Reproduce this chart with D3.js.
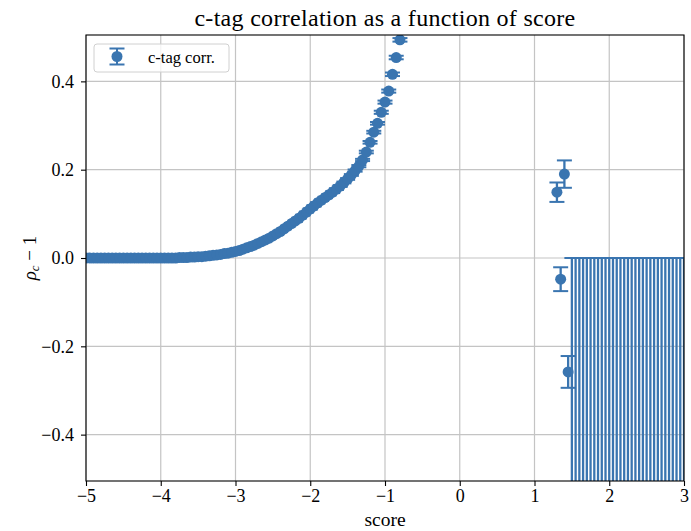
<!DOCTYPE html>
<html>
<head>
<meta charset="utf-8">
<script src="https://cdn.jsdelivr.net/npm/d3@7"></script>
<style>
  body { margin: 0; background: #fff; }
  text { font-family: "Liberation Serif", "DejaVu Serif", serif; fill: #000; }
</style>
</head>
<body>
<div id="chart"></div>
<script>
// score bins (only the visible ones)
const curveScore = [
  -5.00, -4.95, -4.90, -4.85, -4.80, -4.75, -4.70, -4.65, -4.60, -4.55,
  -4.50, -4.45, -4.40, -4.35, -4.30, -4.25, -4.20, -4.15, -4.10, -4.05,
  -4.00, -3.95, -3.90, -3.85, -3.80, -3.75, -3.70, -3.65, -3.60, -3.55,
  -3.50, -3.45, -3.40, -3.35, -3.30, -3.25, -3.20, -3.15, -3.10, -3.05,
  -3.00, -2.95, -2.90, -2.85, -2.80, -2.75, -2.70, -2.65, -2.60, -2.55,
  -2.50, -2.45, -2.40, -2.35, -2.30, -2.25, -2.20, -2.15, -2.10, -2.05,
  -2.00, -1.95, -1.90, -1.85, -1.80, -1.75, -1.70, -1.65, -1.60, -1.55,
  -1.50, -1.45, -1.40, -1.35, -1.30, -1.25, -1.20, -1.15, -1.10, -1.05,
  -1.00, -0.95, -0.90, -0.85, -0.80
];
const curveRho = [
  0.000, 0.000, 0.000, 0.000, 0.000, 0.000, 0.000, 0.000, 0.000, 0.000,
  0.000, 0.000, 0.000, 0.000, 0.000, 0.000, 0.000, 0.000, 0.000, 0.000,
  0.000, 0.000, 0.000, 0.000, 0.000, 0.001, 0.001, 0.001, 0.002, 0.002,
  0.003, 0.003, 0.004, 0.005, 0.006, 0.007, 0.008, 0.010, 0.011, 0.013,
  0.015, 0.017, 0.020, 0.023, 0.026, 0.029, 0.033, 0.037, 0.041, 0.045,
  0.050, 0.055, 0.060, 0.066, 0.072, 0.078, 0.084, 0.090, 0.097, 0.104,
  0.111, 0.118, 0.125, 0.131, 0.137, 0.143, 0.149, 0.156, 0.163, 0.171,
  0.179, 0.188, 0.198, 0.208, 0.222, 0.240, 0.262, 0.285, 0.305, 0.330,
  0.353, 0.378, 0.416, 0.454, 0.494
];
const curveErr = [
  0.0005, 0.0005, 0.0005, 0.0005, 0.0005, 0.0005, 0.0005, 0.0005, 0.0005, 0.0005,
  0.0005, 0.0005, 0.0005, 0.0005, 0.0005, 0.0005, 0.0005, 0.0005, 0.0005, 0.0005,
  0.0005, 0.0005, 0.0005, 0.0005, 0.0005, 0.0005, 0.0005, 0.0005, 0.0005, 0.0005,
  0.0005, 0.0005, 0.0005, 0.0005, 0.0005, 0.0005, 0.0005, 0.0005, 0.0005, 0.0005,
  0.001, 0.001, 0.001, 0.001, 0.001, 0.001, 0.001, 0.001, 0.001, 0.001,
  0.001, 0.001, 0.001, 0.001, 0.001, 0.001, 0.001, 0.001, 0.001, 0.001,
  0.0015, 0.0015, 0.0015, 0.0015, 0.0015, 0.0015, 0.002, 0.002, 0.002, 0.002,
  0.002, 0.002, 0.0025, 0.0025, 0.0025, 0.003, 0.003, 0.003, 0.003, 0.0035,
  0.0035, 0.0035, 0.004, 0.004, 0.004
];

// the few bins near score 1.3 - 1.45
const tailScore = [1.30, 1.35, 1.40, 1.45];
const tailRho = [0.149, -0.048, 0.190, -0.258];
const tailErr = [0.022, 0.027, 0.031, 0.036];

// empty bins: rho = -1 with error 1 (bars reach up to 0)
const emptyScore = [
  1.50, 1.55, 1.60, 1.65, 1.70, 1.75, 1.80, 1.85, 1.90, 1.95,
  2.00, 2.05, 2.10, 2.15, 2.20, 2.25, 2.30, 2.35, 2.40, 2.45,
  2.50, 2.55, 2.60, 2.65, 2.70, 2.75, 2.80, 2.85, 2.90, 2.95, 3.00
];
const emptyRho = emptyScore.map(() => -1);
const emptyErr = emptyScore.map(() => 1);

const xTicks = [-5, -4, -3, -2, -1, 0, 1, 2, 3];
const yTicks = [-0.4, -0.2, 0.0, 0.2, 0.4];

const color = "#3a75b0";
const W = 691, H = 531;
const margin = {top: 35, right: 7, bottom: 50, left: 86};

const svg = d3.select("#chart").append("svg")
    .attr("width", W)
    .attr("height", H);

const x = d3.scaleLinear().domain([-5, 3]).range([margin.left, W - margin.right]);
const y = d3.scaleLinear().domain([-0.505, 0.505]).range([H - margin.bottom, margin.top]);

svg.append("clipPath").attr("id", "plotclip")
  .append("rect")
    .attr("x", margin.left).attr("y", margin.top)
    .attr("width", W - margin.left - margin.right)
    .attr("height", H - margin.top - margin.bottom);

// grid
const grid = svg.append("g").attr("class", "grid");
grid.selectAll("line.gx").data(xTicks).join("line")
    .attr("x1", d => x(d)).attr("x2", d => x(d))
    .attr("y1", margin.top).attr("y2", H - margin.bottom)
    .attr("stroke", "#c4c4c4").attr("stroke-width", 1.2);
grid.selectAll("line.gy").data(yTicks).join("line")
    .attr("y1", d => y(d)).attr("y2", d => y(d))
    .attr("x1", margin.left).attr("x2", W - margin.right)
    .attr("stroke", "#c4c4c4").attr("stroke-width", 1.2);

// all bins together
const points = [];
curveScore.forEach((s, i) => points.push({s: s, r: curveRho[i], e: curveErr[i]}));
tailScore.forEach((s, i) => points.push({s: s, r: tailRho[i], e: tailErr[i]}));
emptyScore.forEach((s, i) => points.push({s: s, r: emptyRho[i], e: emptyErr[i]}));

const capHalf = 7.5, lw = 2.3;
const plot = svg.append("g").attr("clip-path", "url(#plotclip)");

plot.append("g").selectAll("line").data(points).join("line")
    .attr("x1", d => x(d.s)).attr("x2", d => x(d.s))
    .attr("y1", d => y(d.r - d.e)).attr("y2", d => y(d.r + d.e))
    .attr("stroke", color).attr("stroke-width", lw);

const caps = plot.append("g");
caps.selectAll("line.lo").data(points).join("line")
    .attr("x1", d => x(d.s) - capHalf).attr("x2", d => x(d.s) + capHalf)
    .attr("y1", d => y(d.r - d.e)).attr("y2", d => y(d.r - d.e))
    .attr("stroke", color).attr("stroke-width", 2);
caps.selectAll("line.hi").data(points).join("line")
    .attr("x1", d => x(d.s) - capHalf).attr("x2", d => x(d.s) + capHalf)
    .attr("y1", d => y(d.r + d.e)).attr("y2", d => y(d.r + d.e))
    .attr("stroke", color).attr("stroke-width", 2);

plot.append("g").selectAll("circle").data(points).join("circle")
    .attr("cx", d => x(d.s)).attr("cy", d => y(d.r))
    .attr("r", 5.5)
    .attr("fill", color);

// axes
const xAxis = svg.append("g")
    .attr("transform", `translate(0,${H - margin.bottom})`)
    .call(d3.axisBottom(x).tickValues(xTicks).tickFormat(d3.format("d")).tickSize(5).tickPadding(3));
const yAxis = svg.append("g")
    .attr("transform", `translate(${margin.left},0)`)
    .call(d3.axisLeft(y).tickValues(yTicks).tickFormat(d3.format(".1f")).tickSize(5).tickPadding(7));
[xAxis, yAxis].forEach(a => {
  a.select(".domain").remove();
  a.selectAll(".tick line").attr("stroke", "#000").attr("stroke-width", 1.1);
  a.selectAll(".tick text").attr("font-size", 18);
});

// frame
svg.append("rect")
    .attr("x", margin.left).attr("y", margin.top)
    .attr("width", W - margin.left - margin.right)
    .attr("height", H - margin.top - margin.bottom)
    .attr("fill", "none").attr("stroke", "#000").attr("stroke-width", 1.1);

// title and labels
svg.append("text")
    .attr("x", (margin.left + W - margin.right) / 2).attr("y", 26)
    .attr("text-anchor", "middle").attr("font-size", 24)
    .attr("letter-spacing", 0.3)
    .text("c-tag correlation as a function of score");

svg.append("text")
    .attr("x", (margin.left + W - margin.right) / 2).attr("y", 526)
    .attr("text-anchor", "middle").attr("font-size", 19.5)
    .text("score");

const yl = svg.append("text")
    .attr("transform", `translate(36,${y(0)}) rotate(-90)`)
    .attr("text-anchor", "middle").attr("font-size", 19);
yl.append("tspan").attr("font-style", "italic").text("ρ");
yl.append("tspan").attr("font-style", "italic").attr("font-size", 13).attr("dy", 3).text("c");
yl.append("tspan").attr("dy", -3).text(" − 1");

// legend
const lg = svg.append("g");
lg.append("rect")
    .attr("x", 94).attr("y", 44).attr("width", 135).attr("height", 28)
    .attr("rx", 3)
    .attr("fill", "#fff").attr("fill-opacity", 0.8)
    .attr("stroke", "#d0d0d0").attr("stroke-width", 1);
lg.append("line").attr("x1", 117).attr("x2", 117).attr("y1", 48.5).attr("y2", 64.5)
    .attr("stroke", color).attr("stroke-width", 2);
[48.5, 64.5].forEach(cy => lg.append("line")
    .attr("x1", 117 - capHalf).attr("x2", 117 + capHalf).attr("y1", cy).attr("y2", cy)
    .attr("stroke", color).attr("stroke-width", 2));
lg.append("circle").attr("cx", 117).attr("cy", 56.5).attr("r", 5.5).attr("fill", color);
lg.append("text").attr("x", 148).attr("y", 63).attr("font-size", 16.5).text("c-tag corr.");
</script>
</body>
</html>
